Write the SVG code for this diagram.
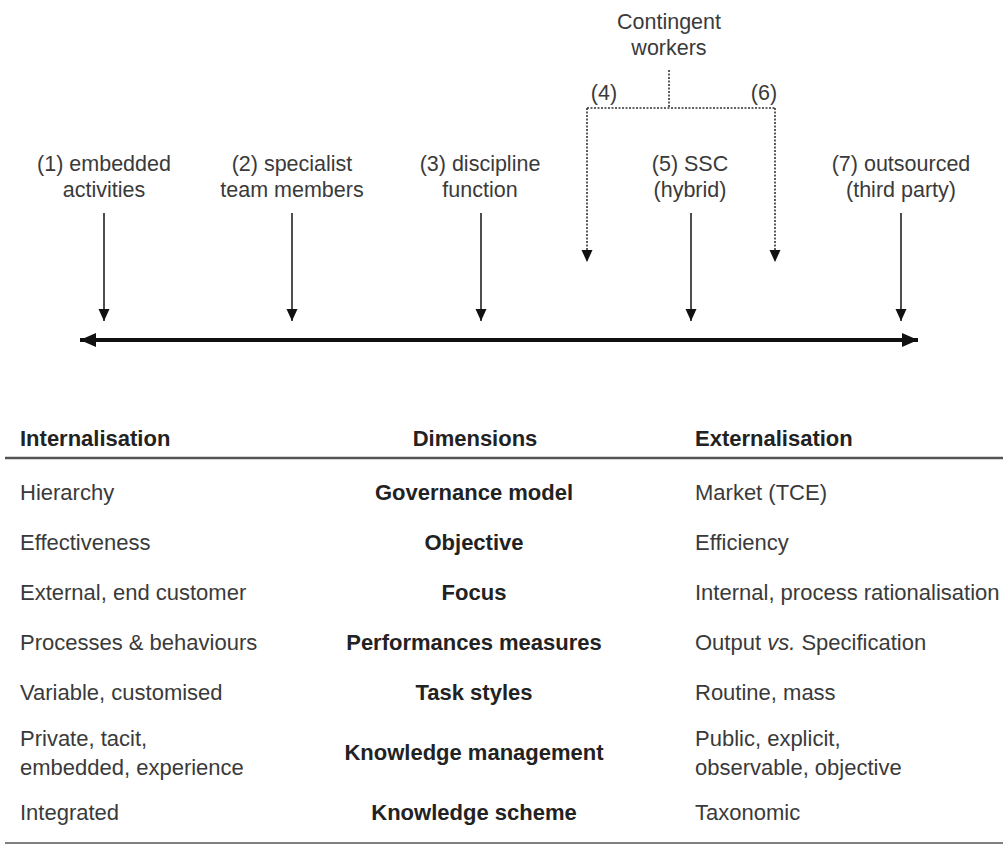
<svg xmlns="http://www.w3.org/2000/svg" width="1003" height="845" viewBox="0 0 1003 845">
<style>
text{font-family:"Liberation Sans",Arial,sans-serif;fill:#3a3a3a}
.top{font-size:21.5px;text-anchor:middle}
.t{font-size:22px}
.b{font-size:22px;font-weight:bold;text-anchor:middle;fill:#222}
.h{font-size:22px;font-weight:bold;fill:#222}
.arr{stroke:#222;stroke-width:1.6;fill:none;marker-end:url(#ah)}
.dot{stroke:#333;stroke-width:1.6;fill:none;stroke-dasharray:2 1.5}
</style>
<defs>
<marker id="ah" markerWidth="12" markerHeight="12" refX="12" refY="6" orient="auto" markerUnits="userSpaceOnUse">
<path d="M0,0.5 L12,6 L0,11.5 Z" fill="#111"/>
</marker>
<marker id="big" markerWidth="16" markerHeight="14" refX="16" refY="7" orient="auto-start-reverse" markerUnits="userSpaceOnUse">
<path d="M0,0 L16,7 L0,14 Z" fill="#111"/>
</marker>
</defs>
<rect width="1003" height="845" fill="#fff"/>
<g id="contingent">
<text class="top" x="669" y="29">Contingent</text>
<text class="top" x="669" y="55">workers</text>
<text class="top" x="604" y="100">(4)</text>
<text class="top" x="764" y="100">(6)</text>
</g>
<g id="n1"><text class="top" x="104" y="171">(1) embedded</text><text class="top" x="104" y="197">activities</text></g>
<g id="n2"><text class="top" x="292" y="171">(2) specialist</text><text class="top" x="292" y="197">team members</text></g>
<g id="n3"><text class="top" x="480" y="171">(3) discipline</text><text class="top" x="480" y="197">function</text></g>
<g id="n5"><text class="top" x="690" y="171">(5) SSC</text><text class="top" x="690" y="197">(hybrid)</text></g>
<g id="n7"><text class="top" x="901" y="171">(7) outsourced</text><text class="top" x="901" y="197">(third party)</text></g>
<g id="connectors">
<path class="dot" d="M669,70 V108"/>
<path class="dot" d="M587,108 H775"/>
<path class="dot" d="M587,108 V262" marker-end="url(#ah)"/>
<path class="dot" d="M775,108 V262" marker-end="url(#ah)"/>
<path class="arr" d="M104,213 V321"/>
<path class="arr" d="M292,213 V321"/>
<path class="arr" d="M481,213 V321"/>
<path class="arr" d="M691,213 V321"/>
<path class="arr" d="M901,213 V321"/>
<path d="M80,340 H918" stroke="#111" stroke-width="4" marker-start="url(#big)" marker-end="url(#big)"/>
</g>
<g id="table">
<text class="h" x="20" y="446">Internalisation</text>
<text class="b" x="475" y="446">Dimensions</text>
<text class="h" x="695" y="446">Externalisation</text>
<line x1="5" y1="458" x2="1003" y2="458" stroke="#555" stroke-width="2.5"/>
<text class="t" x="20" y="500">Hierarchy</text>
<text class="b" x="474" y="500">Governance model</text>
<text class="t" x="695" y="500">Market (TCE)</text>
<text class="t" x="20" y="550">Effectiveness</text>
<text class="b" x="474" y="550">Objective</text>
<text class="t" x="695" y="550">Efficiency</text>
<text class="t" x="20" y="600">External, end customer</text>
<text class="b" x="474" y="600">Focus</text>
<text class="t" x="695" y="600">Internal, process rationalisation</text>
<text class="t" x="20" y="650">Processes &amp; behaviours</text>
<text class="b" x="474" y="650">Performances measures</text>
<text class="t" x="695" y="650">Output <tspan font-style="italic">vs.</tspan> Specification</text>
<text class="t" x="20" y="700">Variable, customised</text>
<text class="b" x="474" y="700">Task styles</text>
<text class="t" x="695" y="700">Routine, mass</text>
<text class="t" x="20" y="746">Private, tacit,</text>
<text class="t" x="20" y="775">embedded, experience</text>
<text class="b" x="474" y="760">Knowledge management</text>
<text class="t" x="695" y="746">Public, explicit,</text>
<text class="t" x="695" y="775">observable, objective</text>
<text class="t" x="20" y="820">Integrated</text>
<text class="b" x="474" y="820">Knowledge scheme</text>
<text class="t" x="695" y="820">Taxonomic</text>
<line x1="5" y1="843" x2="1003" y2="843" stroke="#555" stroke-width="1.5"/>
</g>
</svg>
